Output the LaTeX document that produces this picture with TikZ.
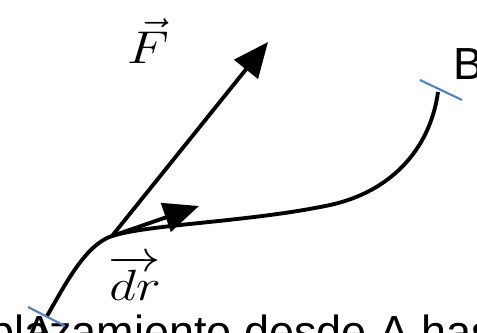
\documentclass[tikz,border=0pt]{standalone}
\usepackage{fontspec}
\newfontfamily\labelfont{Liberation Sans}
\usetikzlibrary{arrows.meta}
\definecolor{tickblue}{RGB}{80,130,200}
\tikzset{
    path/.style={line width=2.2pt},
    vecarrow/.style={line width=2.2pt, -{Triangle[length=20pt, width=17pt]}},
    endtick/.style={tickblue, line width=1.2pt},
    sanslabel/.style={font=\labelfont\fontsize{25.6}{30}\selectfont, inner sep=0pt},
    mathlabel/.style={font=\fontsize{32}{36}\selectfont, inner sep=0pt}
}
\begin{document}
\begin{tikzpicture}[x=0.02cm, y=-0.02cm]
    \useasboundingbox (0,0) rectangle (477,332);
    \coordinate (A) at (47,316);
    \coordinate (B) at (438,92);
    \coordinate (O) at (112,236);
    \coordinate (Ftip) at (268,42);
    \coordinate (drtip) at (199,206);
    \coordinate (Aa) at (28,307);
    \coordinate (Ab) at (65,326);
    \coordinate (Ba) at (420,80);
    \coordinate (Bb) at (462,100);

    \node[sanslabel, anchor=base west] (caption) at (-91,347) {Desplazamiento desde A hasta B};
    \node[sanslabel, anchor=base west] (Alab) at (24,347) {A};
    \node[sanslabel, anchor=base west] (Blab) at (453,79) {B};

    % path from A to B
    \draw[path] (A) .. controls (65,285) and (85,245) .. (O)
        .. controls (150,224) and (250,222) .. (330,205)
        .. controls (390,192) and (430,150) .. (B);

    \draw[endtick] (Aa) -- (Ab);
    \draw[endtick] (Ba) -- (Bb);

    \draw[vecarrow] (O) -- (Ftip);
    \draw[vecarrow] (O) -- (drtip);

    \node[mathlabel, anchor=base] (Flab) at (148,63) {\scalebox{1.25}[1.05]{$\vec{F}$}};
    \node[mathlabel, anchor=base] (drlab) at (135,300) {\scalebox{1.2}[1]{$\overrightarrow{dr}$}};
\end{tikzpicture}
\end{document}
